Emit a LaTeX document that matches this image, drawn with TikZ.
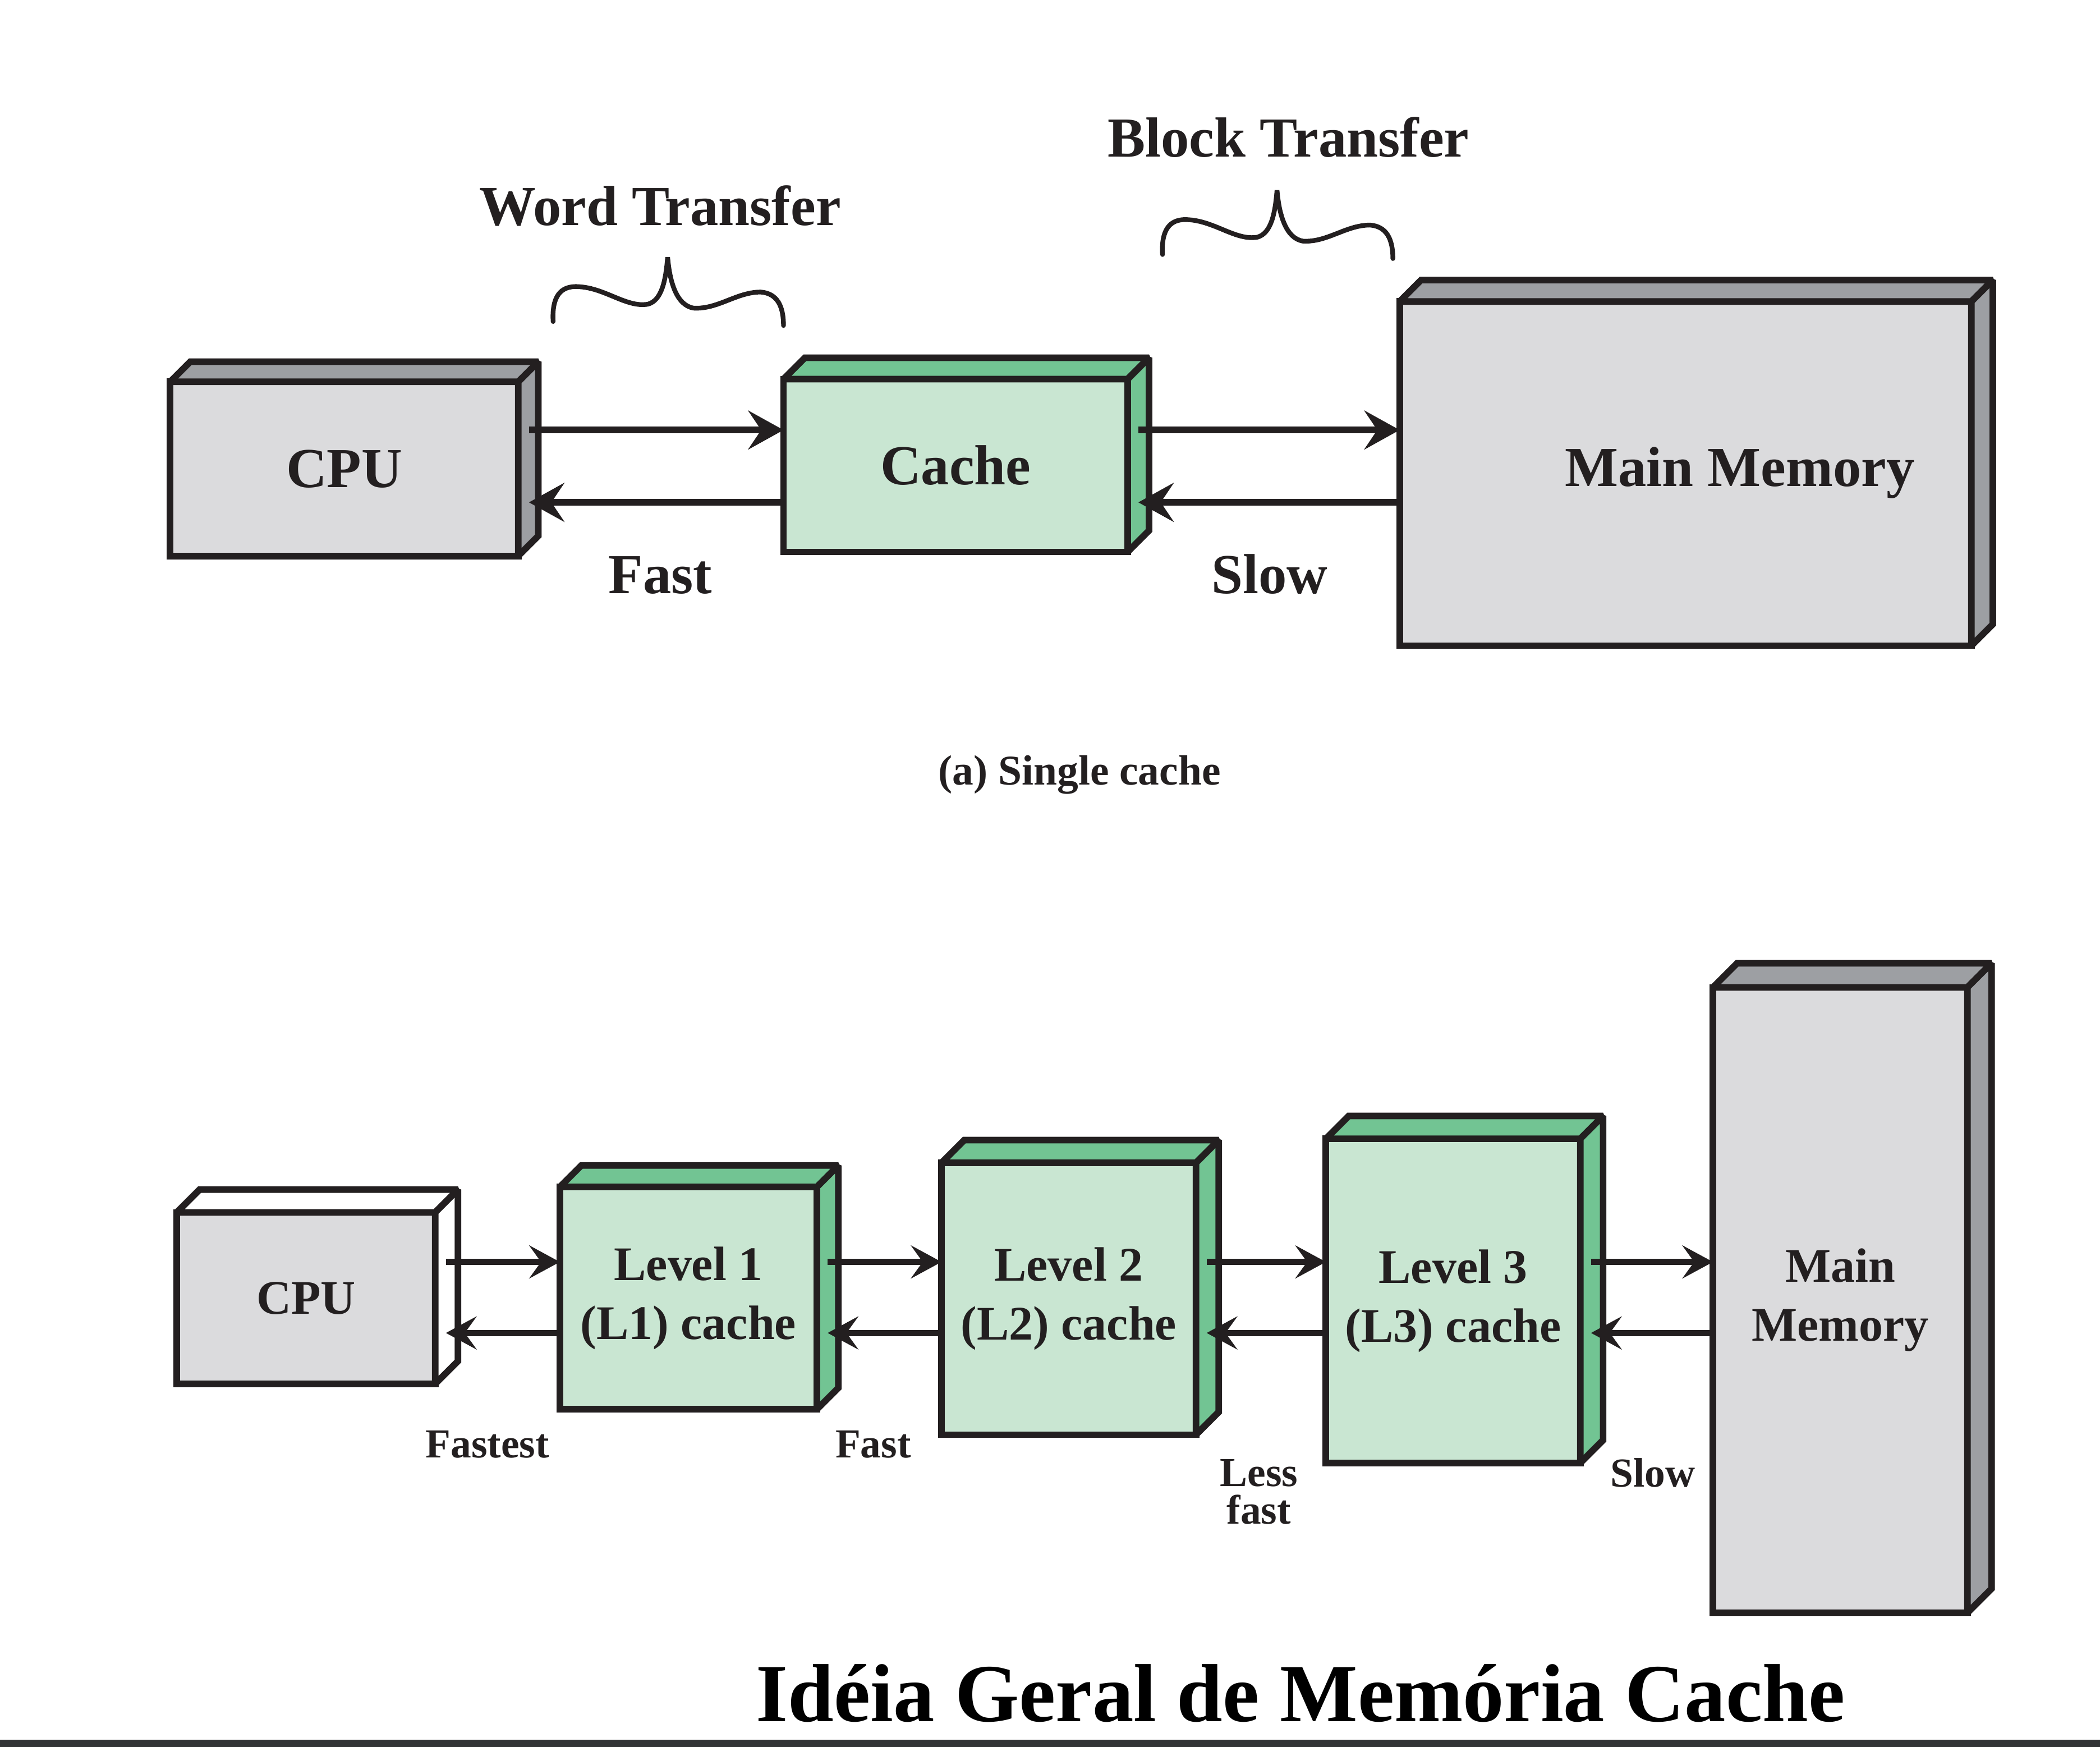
\documentclass[tikz,border=0pt]{standalone}
\usepackage{fontspec}
\setmainfont{Liberation Serif}
\usetikzlibrary{arrows.meta,calc}
\definecolor{lineblk}{HTML}{231F20}
\definecolor{grayfront}{HTML}{DBDBDD}
\definecolor{grayside}{HTML}{9D9FA3}
\definecolor{greenfront}{HTML}{C9E6D2}
\definecolor{greenside}{HTML}{72C493}
\definecolor{bandgray}{HTML}{323436}
\newcommand\myfbig{\fontsize{24}{28}\selectfont\bfseries}
\newcommand\myfmid{\fontsize{20.5}{25}\selectfont\bfseries}
\newcommand\myfsmall{\fontsize{17.5}{16}\selectfont\bfseries}
\newcommand\myfcap{\fontsize{18}{21}\selectfont\bfseries}
\newcommand\myftitle{\fontsize{35}{40}\selectfont\bfseries}
\newcommand\boxfaces[4]{%
  \filldraw[boxline, fill=#3] (#1.north west) -- ($(#1.north west)+(#2,-#2)$) -- ($(#1.north east)+(#2,-#2)$) -- (#1.north east) -- cycle;
  \filldraw[boxline, fill=#4] (#1.north east) -- ($(#1.north east)+(#2,-#2)$) -- ($(#1.south east)+(#2,-#2)$) -- (#1.south east) -- cycle;
}
\tikzset{
  boxline/.style={draw=lineblk, line width=2.8pt, line join=miter, miter limit=2},
  cube/.style={boxline, rectangle, inner sep=0pt, outer sep=0pt, text=lineblk, align=center},
  txt/.style={inner sep=0pt, outer sep=0pt, text=lineblk, align=center},
  conn/.style={draw=lineblk, line width=2.8pt, -{Stealth[length=15pt, width=16.5pt, inset=5.5pt]}},
  connb/.style={draw=lineblk, line width=2.6pt, -{Stealth[length=13pt, width=14pt, inset=5pt]}},
  wbrace/.pic={
    \draw[line width=2pt, draw=lineblk, line cap=round]
      (0,48) .. controls (-1,30) and (5,21) .. (19,22)
      .. controls (39,23) and (55,38) .. (71,35)
      .. controls (81,32) and (84,18) .. (85.5,0)
      .. controls (87,18) and (92,36) .. (105,38)
      .. controls (123,39) and (137,26) .. (155,26)
      .. controls (167,27) and (172,36) .. (172,51);
  }
}
\begin{document}
\begin{tikzpicture}[x=0.02cm, y=-0.02cm]
\fill[white] (0,0) rectangle (1568,1304);
\useasboundingbox (0,0) rectangle (1568,1304);

% ---------- (a) single cache ----------
\node[txt, font=\myfbig, anchor=base] (wordT) at (493,168) {Word Transfer};
\node[txt, font=\myfbig, anchor=base] (blockT) at (962,117) {Block Transfer};
\pic at (413,192) {wbrace};
\pic at (868,142) {wbrace};

\node[cube, fill=grayfront, minimum width=5.2cm, minimum height=2.6cm, font=\myfbig] (cpuA) at (257,350) {CPU};
\node[cube, fill=greenfront, minimum width=5.14cm, minimum height=2.58cm, font=\myfbig] (cacheA) at (713.5,347.5) {Cache};
\node[cube, fill=grayfront, minimum width=8.54cm, minimum height=5.14cm] (mmA) at (1258.5,353.5) {};
\node[txt, font=\myfbig, anchor=base] (mmAlab) at (1299,363) {Main Memory};
\boxfaces{cpuA}{15}{grayside}{grayside}
\boxfaces{cacheA}{16}{greenside}{greenside}
\boxfaces{mmA}{16}{grayside}{grayside}

\coordinate (ya1) at (0,321);
\coordinate (ya2) at (0,375);
\coordinate (cpuAr) at ($(cpuA.east)+(8,0)$);
\coordinate (cacheAr) at ($(cacheA.east)+(8,0)$);
\draw[conn] (cpuAr |- ya1) -- (cacheA.west |- ya1);
\draw[conn] (cacheA.west |- ya2) -- (cpuAr |- ya2);
\draw[conn] (cacheAr |- ya1) -- (mmA.west |- ya1);
\draw[conn] (mmA.west |- ya2) -- (cacheAr |- ya2);

\node[txt, font=\myfbig, anchor=base] (fastA) at (493,443) {Fast};
\node[txt, font=\myfbig, anchor=base] (slowA) at (948,443) {Slow};
\node[txt, font=\myfcap, anchor=base] (capA) at (806,586) {(a) Single cache};

% ---------- multilevel ----------
\node[cube, fill=grayfront, minimum width=3.86cm, minimum height=2.56cm, font=\myfmid] (cpuB) at (228.5,969) {CPU};
\node[cube, fill=greenfront, minimum width=3.84cm, minimum height=3.32cm, font=\myfmid] (l1) at (514,969) {Level 1\\(L1) cache};
\node[cube, fill=greenfront, minimum width=3.8cm, minimum height=4.06cm, font=\myfmid] (l2) at (798,969.5) {Level 2\\(L2) cache};
\node[cube, fill=greenfront, minimum width=3.8cm, minimum height=4.84cm, font=\myfmid] (l3) at (1085,971) {Level 3\\(L3) cache};
\node[cube, fill=grayfront, minimum width=3.8cm, minimum height=9.34cm, font=\myfmid] (mmB) at (1374,970.5) {Main\\Memory};
\boxfaces{cpuB}{17}{white}{white}
\boxfaces{l1}{16}{greenside}{greenside}
\boxfaces{l2}{17}{greenside}{greenside}
\boxfaces{l3}{17}{greenside}{greenside}
\boxfaces{mmB}{18}{grayside}{grayside}

\coordinate (yb1) at (0,942);
\coordinate (yb2) at (0,995);
\coordinate (cpuBr) at ($(cpuB.east)+(8,0)$);
\coordinate (l1r) at ($(l1.east)+(8,0)$);
\coordinate (l2r) at ($(l2.east)+(8,0)$);
\coordinate (l3r) at ($(l3.east)+(8,0)$);
\draw[connb] (cpuBr |- yb1) -- (l1.west |- yb1);
\draw[connb] (l1.west |- yb2) -- (cpuBr |- yb2);
\draw[connb] (l1r |- yb1) -- (l2.west |- yb1);
\draw[connb] (l2.west |- yb2) -- (l1r |- yb2);
\draw[connb] (l2r |- yb1) -- (l3.west |- yb1);
\draw[connb] (l3.west |- yb2) -- (l2r |- yb2);
\draw[connb] (l3r |- yb1) -- (mmB.west |- yb1);
\draw[connb] (mmB.west |- yb2) -- (l3r |- yb2);

\node[txt, font=\myfsmall, anchor=base] (fastest) at (364,1088) {Fastest};
\node[txt, font=\myfsmall, anchor=base] (fastB) at (652,1088) {Fast};
\node[txt, font=\myfsmall] (lessfast) at (940,1113.5) {Less\\fast};
\node[txt, font=\myfsmall, anchor=base] (slowB) at (1234,1110) {Slow};

% ---------- title ----------
\node[inner sep=0pt, font=\myftitle, anchor=base, text=black] (title) at (971,1285) {Idéia Geral de Memória Cache};
\fill[bandgray] (0,1298.5) rectangle (1568,1304);
\end{tikzpicture}
\end{document}
